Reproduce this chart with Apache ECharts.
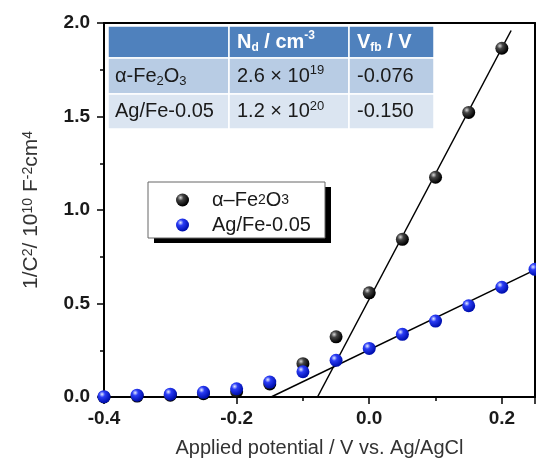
<!DOCTYPE html>
<html>
<head>
<meta charset="utf-8">
<script src="https://cdn.jsdelivr.net/npm/echarts@6/dist/echarts.min.js"></script>
<style>
html, body { margin: 0; background: #fff; }
#chart { width: 536px; height: 462px; }
</style>
</head>
<body>
<div id="chart"></div>
<script>
// Mott-Schottky data (1/C^2, 10^10 F^-2 cm^4) vs potential (V vs Ag/AgCl)
const potentials = [-0.4, -0.35, -0.3, -0.25, -0.2, -0.15, -0.1, -0.05, 0, 0.05, 0.1, 0.15, 0.2, 0.25];
const fe2o3 = [0.0, 0.005, 0.01, 0.018, 0.028, 0.07, 0.178, 0.322, 0.557, 0.843, 1.175, 1.522, 1.865, null];
const agfe = [0.002, 0.01, 0.015, 0.025, 0.044, 0.08, 0.135, 0.196, 0.26, 0.335, 0.406, 0.488, 0.587, 0.683];

// linear fits (end points)
const fitFe = [[-0.078, 0], [0.214, 1.96]];
const fitAg = [[-0.148, 0], [0.25, 0.68]];

const seriesNames = ["α-Fe2O3", "Ag/Fe-0.05"];

// inset table
const tableHead = ["", "{b|N}{bsub|d}{b| / cm}{bsup|-3}", "{b|V}{bsub|fb}{b| / V}"];
const tableSamples = ["α-Fe{sub|2}O{sub|3}", "Ag/Fe-0.05"];
const tableNd = ["2.6 × 10{sup|19}", "1.2 × 10{sup|20}"];
const tableVfb = ["-0.076", "-0.150"];

const FONT = "Liberation Sans";

function sphere(light, mid, dark) {
  return new echarts.graphic.RadialGradient(0.35, 0.32, 0.65, [
    { offset: 0, color: light },
    { offset: 0.35, color: mid },
    { offset: 1, color: dark },
  ]);
}

// table graphic
const cols = [108, 229, 349, 434];
const rows = [26, 58, 94, 129];
const rowFill = ["#4f81bd", "#b8cce4", "#dbe5f1"];
const textX = [115, 237, 357];
const cellRich = {
  sub: { fontSize: 13, fontFamily: FONT, fill: "#1a1a1a", verticalAlign: "bottom", lineHeight: 12 },
  sup: { fontSize: 13, fontFamily: FONT, fill: "#1a1a1a", verticalAlign: "top", lineHeight: 12 },
  b: { fontSize: 20, fontFamily: FONT, fontWeight: "bold", fill: "#fff", lineHeight: 24 },
  bsub: { fontSize: 12, fontFamily: FONT, fontWeight: "bold", fill: "#fff", verticalAlign: "bottom", lineHeight: 12 },
  bsup: { fontSize: 12, fontFamily: FONT, fontWeight: "bold", fill: "#fff", verticalAlign: "top", lineHeight: 12 },
};
const tableElems = [];
for (let r = 0; r < 3; r++) {
  for (let c = 0; c < 3; c++) {
    tableElems.push({
      type: "rect",
      shape: { x: cols[c], y: rows[r], width: cols[c + 1] - cols[c], height: rows[r + 1] - rows[r] },
      style: { fill: rowFill[r], stroke: "#fff", lineWidth: 1.5 },
    });
    let txt;
    if (r === 0) txt = tableHead[c];
    else txt = [tableSamples, tableNd, tableVfb][c][r - 1];
    if (!txt) continue;
    tableElems.push({
      type: "text",
      x: textX[c],
      y: (rows[r] + rows[r + 1]) / 2,
      style: {
        text: txt,
        fontSize: 20,
        fontFamily: FONT,
        fill: "#1a1a1a",
        lineHeight: 24,
        verticalAlign: "middle",
        rich: cellRich,
      },
    });
  }
}

// legend frame: grey border plus a hard black drop shadow (drawn as two thick strokes)
const legendBox = [
  { type: "line", shape: { x1: 328, y1: 187, x2: 328, y2: 243 }, style: { stroke: "#000", lineWidth: 6 } },
  { type: "line", shape: { x1: 154, y1: 240.5, x2: 331, y2: 240.5 }, style: { stroke: "#000", lineWidth: 5 } },
  { type: "rect", shape: { x: 148, y: 182, width: 177, height: 56 }, style: { fill: "#fff", stroke: "#666", lineWidth: 1 } },
];

var myChart = echarts.init(document.getElementById("chart"));

let option = {
  animation: false,
  textStyle: { fontFamily: FONT },
  grid: { left: 104, top: 23, right: 1, bottom: 65, outerBoundsMode: "none" },
  legend: {
    data: seriesNames,
    orient: "vertical",
    left: 176,
    top: 190,
    itemWidth: 13,
    itemHeight: 13,
    itemGap: 5,
    padding: 0,
    icon: "circle",
    z: 60,
    formatter: (name) =>
      name === seriesNames[0] ? "{a|α–Fe}{s|2}{a|O}{s|3}" : "{a|Ag/Fe-0.05}",
    textStyle: {
      color: "#1a1a1a",
      fontSize: 20,
      padding: [0, 0, 0, 18],
      rich: {
        a: { fontSize: 20, lineHeight: 20 },
        s: { fontSize: 14, lineHeight: 20 },
      },
    },
  },
  xAxis: [
    {
      type: "value",
      min: -0.4,
      max: 0.25,
      interval: 0.2,
      name: "Applied potential / V vs. Ag/AgCl",
      nameLocation: "middle",
      nameGap: 41,
      nameTextStyle: { fontSize: 20, color: "#333" },
      axisLine: { onZero: false, lineStyle: { color: "#000", width: 2 } },
      axisTick: { length: 7, lineStyle: { color: "#000", width: 1.5 } },
      minorTick: { show: true, splitNumber: 2, length: 4, lineStyle: { color: "#000", width: 1.5 } },
      splitLine: { show: false },
      axisLabel: {
        margin: 12,
        fontSize: 19,
        fontWeight: "bold",
        color: "#1a1a1a",
        showMaxLabel: false,
        formatter: (v) => v.toFixed(1),
      },
    },
    {
      type: "value",
      position: "top",
      min: -0.4,
      max: 0.25,
      axisLine: { show: true, onZero: false, lineStyle: { color: "#000", width: 2 } },
      axisTick: { show: false },
      axisLabel: { show: false },
      splitLine: { show: false },
    },
  ],
  yAxis: [
    {
      type: "value",
      min: 0,
      max: 2,
      interval: 0.5,
      name: "1/C{sup|2}/ 10{sup|10} F{sup|-2}cm{sup|4}",
      nameLocation: "middle",
      nameGap: 62,
      nameTextStyle: {
        fontSize: 21,
        color: "#333",
        rich: { sup: { fontSize: 14, verticalAlign: "top", lineHeight: 12, color: "#333" } },
      },
      axisLine: { onZero: false, lineStyle: { color: "#000", width: 2 } },
      axisTick: { length: 7, lineStyle: { color: "#000", width: 1.5 } },
      minorTick: { show: true, splitNumber: 2, length: 4, lineStyle: { color: "#000", width: 1.5 } },
      splitLine: { show: false },
      axisLabel: {
        margin: 14,
        fontSize: 19,
        fontWeight: "bold",
        color: "#1a1a1a",
        formatter: (v) => v.toFixed(1),
      },
    },
    {
      type: "value",
      position: "right",
      min: 0,
      max: 2,
      axisLine: { show: true, onZero: false, lineStyle: { color: "#000", width: 2 } },
      axisTick: { show: false },
      axisLabel: { show: false },
      splitLine: { show: false },
    },
  ],
  series: [
    {
      name: "fitFe",
      type: "line",
      data: fitFe,
      symbol: "none",
      silent: true,
      lineStyle: { color: "#000", width: 1.5 },
      z: 2,
    },
    {
      name: "fitAg",
      type: "line",
      data: fitAg,
      symbol: "none",
      silent: true,
      lineStyle: { color: "#000", width: 1.5 },
      z: 2,
    },
    {
      name: seriesNames[0],
      type: "scatter",
      symbolSize: 13,
      data: potentials.map((x, i) => [x, fe2o3[i]]).filter((p) => p[1] !== null),
      itemStyle: { color: sphere("#d8d8d8", "#444", "#000"), opacity: 1 },
      z: 3,
    },
    {
      name: seriesNames[1],
      type: "scatter",
      symbolSize: 13,
      data: potentials.map((x, i) => [x, agfe[i]]),
      itemStyle: { color: sphere("#e6ecff", "#2a3cf5", "#0010b0"), opacity: 1 },
      z: 4,
    },
  ],
  graphic: {
    elements: [
      { type: "group", id: "legendBox", z: 50, children: legendBox },
      { type: "group", id: "table", z: 100, children: tableElems },
    ],
  },
};
myChart.setOption(option);
</script>
</body>
</html>
